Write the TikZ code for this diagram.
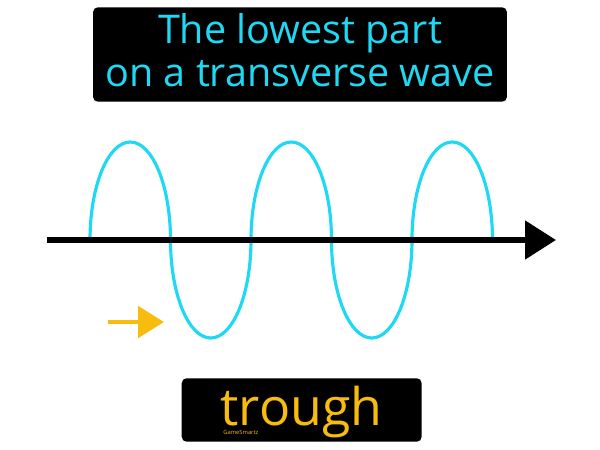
\documentclass[tikz,border=0pt]{standalone}
\usepackage{fontspec}
\setmainfont{Open Sans}
\usetikzlibrary{arrows.meta}
\definecolor{cCyan}{HTML}{1ED8F4}
\definecolor{cOrange}{HTML}{F8BC0E}
\definecolor{cBox}{HTML}{000000}
\tikzset{>=stealth}
\tikzset{
	labelbox/.style={fill=cBox, rounded corners=2.8pt, inner sep=0pt},
}

\begin{document}
\begin{tikzpicture}[x=0.02cm, y=-0.02cm]
		\useasboundingbox (0,0) rectangle (600,450);
		
		%title box
		\node [labelbox, minimum width=8.28cm, minimum height=1.89cm] (titlebox) at (300,54.5) {};
		\node [text=cCyan, align=center, font=\fontsize{22.5}{24.4}\selectfont] (title) at (300,50.5) {The lowest part\\on a transverse wave};
		
		%wave, five half ellipses
		\coordinate (wavestart) at (90,240);
		\draw [cCyan, line width=1.8pt] (wavestart)
			\foreach \a/\b in {180/360,180/0,180/360,180/0,180/360}
			{
				arc [start angle=\a, end angle=\b, x radius=40.25, y radius=98]
			};
		
		%axis
		\coordinate (axisstart) at (47,240);
		\coordinate (axisend) at (556,240);
		\draw [line width=3.1pt, -{Triangle[length=17.6pt, width=21.5pt]}] (axisstart) -- (axisend);
		
		%pointer to the trough
		\coordinate (pushstart) at (108,322);
		\coordinate (pushend) at (164,322);
		\draw [cOrange, line width=2.8pt, -{Triangle[length=14.7pt, width=17.6pt]}] (pushstart) -- (pushend);
		
		%term box
		\node [labelbox, minimum width=4.8cm, minimum height=1.27cm] (termbox) at (301.7,410) {};
		\node [text=cOrange, anchor=base, inner sep=0pt, text depth=0pt, font=\fontsize{29.5}{32}\selectfont] (term) at (301.5,425) {trough};
		\node [text=cOrange, anchor=base west, inner sep=0pt, font=\fontsize{3.3}{4}\selectfont] (brand) at (223,434) {GameSmartz};
		
\end{tikzpicture}
\end{document}
